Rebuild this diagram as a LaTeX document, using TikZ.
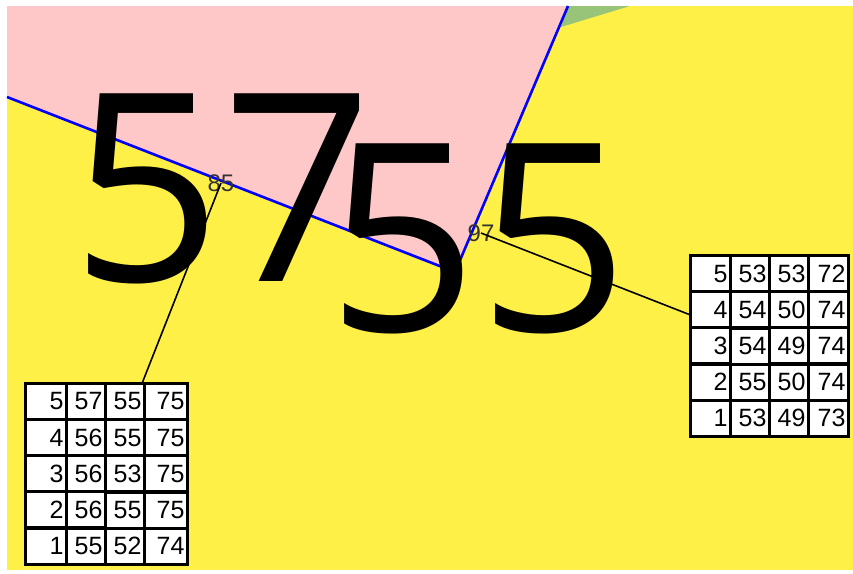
\documentclass[tikz,border=0pt]{standalone}
\usepackage{fontspec}
\setmainfont{Liberation Sans}
\newfontfamily\bigdigits{Open Sans}
\usetikzlibrary{matrix}
\definecolor{zonepink}{RGB}{255,200,200}
\definecolor{zoneyellow}{RGB}{255,240,72}
\definecolor{zonegreen}{RGB}{152,196,122}
\begin{document}
\begin{tikzpicture}[x=1pt, y=-1pt,
    border/.style={draw=blue, line width=2.6pt},
    bignum/.style={inner sep=0pt, font=\bigdigits\fontsize{263}{263}\selectfont},
    tag/.style={inner sep=0pt, text=black!80, font=\fontsize{24}{24}\selectfont},
    leader/.style={draw, line width=1.6pt},
    readings/.style={matrix of nodes, anchor=north west, inner sep=0pt, outer sep=0pt,
        column sep=-3pt, row sep=-3pt,
        nodes={draw, line width=3pt, fill=white, minimum height=36pt, inner xsep=3pt,
            inner ysep=0pt, outer sep=0pt, align=right, font=\fontsize{25}{25}\selectfont}}
]
% frame and zones
\fill[white] (0,0) rectangle (853,573);
\fill[zoneyellow] (7,6) rectangle (853,570);
\coordinate (west) at (7,97);
\coordinate (apex) at (455,272);
\coordinate (north) at (568,6);
\fill[zonepink] (7,6) -- (north) -- (apex) -- (west) -- cycle;
\fill[zonegreen] (north) -- (630,6) -- (561,27) -- cycle;
\draw[border] (west) -- (apex) -- (north);

% big values
\node[bignum] (big57) at (222,189) {57};
\node[bignum] (big55) at (478,239) {55};

% small tags
\node[tag] (tag85) at (221,183) {85};
\node[tag] (tag97) at (481,233) {97};

% tables
\matrix[readings, column 1/.style={nodes={text width=35pt}}, column 2/.style={nodes={text width=33pt}},
    column 3/.style={nodes={text width=33pt}}, column 4/.style={nodes={text width=37pt}}] (tabL) at (24,382) {
5 & 57 & 55 & 75 \\
4 & 56 & 55 & 75 \\
3 & 56 & 53 & 75 \\
2 & 56 & 55 & 75 \\
1 & 55 & 52 & 74 \\
};
\matrix[readings, column 1/.style={nodes={text width=34pt}}, column 2/.style={nodes={text width=33pt}},
    column 3/.style={nodes={text width=33pt}}, column 4/.style={nodes={text width=34pt}}] (tabR) at (689,254) {
5 & 53 & 53 & 72 \\
4 & 54 & 50 & 74 \\
3 & 54 & 49 & 74 \\
2 & 55 & 50 & 74 \\
1 & 53 & 49 & 73 \\
};

% leaders
\draw[leader] (tag85.center) -- (tabL);
\draw[leader] (tag97.center) -- (tabR);
\end{tikzpicture}
\end{document}
